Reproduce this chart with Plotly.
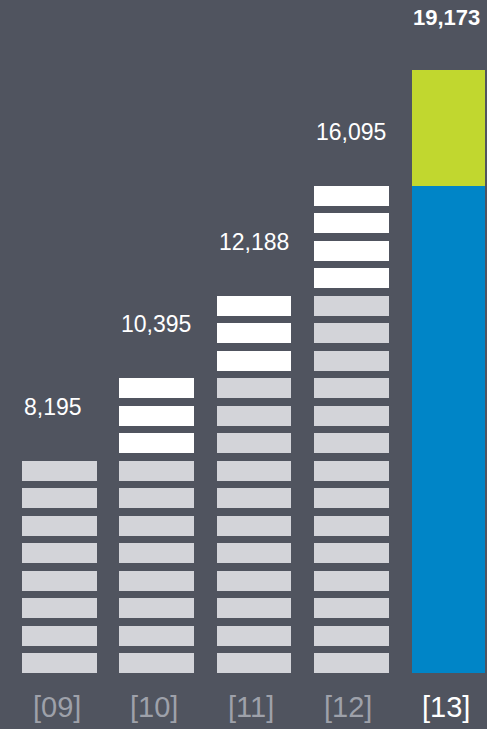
import plotly.graph_objects as go

# ---- data ----
years = ["[09]", "[10]", "[11]", "[12]", "[13]"]
totals = [8195, 10395, 12188, 16095, 19173]
total_labels = ["8,195", "10,395", "12,188", "16,095", "19,173"]
# block counts (each block = one unit on the pictogram scale)
prev_blocks = [8, 8, 11, 14]     # grey blocks: carried over from previous year
new_blocks = [0, 3, 3, 4]        # white blocks: growth in that year
# 2013 solid bar, in block units
base_13 = 17.72                  # blue: 2012 level
growth_13 = 4.2                  # green: 2013 growth

BG = "#50545f"
GREY = "#d3d4d9"
WHITE = "#ffffff"
BLUE = "#0085c7"
GREEN = "#c1d72f"
BLOCK_H = 0.716
BW = 0.771

fig = go.Figure()

# grey and white block traces
gx, gb, wx, wb = [], [], [], []
for i, (p, n) in enumerate(zip(prev_blocks, new_blocks)):
    for k in range(p):
        gx.append(i); gb.append(k)
    for k in range(p, p + n):
        wx.append(i); wb.append(k)

fig.add_trace(go.Bar(x=gx, y=[BLOCK_H] * len(gx), base=gb, width=BW,
                     marker=dict(color=GREY, line=dict(width=0)), hoverinfo="skip"))
fig.add_trace(go.Bar(x=wx, y=[BLOCK_H] * len(wx), base=wb, width=BW,
                     marker=dict(color=WHITE, line=dict(width=0)), hoverinfo="skip"))
fig.add_trace(go.Bar(x=[4], y=[base_13], base=[0], width=0.75,
                     marker=dict(color=BLUE, line=dict(width=0)), hoverinfo="skip"))
fig.add_trace(go.Bar(x=[4], y=[growth_13], base=[base_13], width=0.75,
                     marker=dict(color=GREEN, line=dict(width=0)), hoverinfo="skip"))

# value labels
tops = [p + n - 1 + BLOCK_H for p, n in zip(prev_blocks, new_blocks)] + [base_13 + growth_13]
for i, (t, lab) in enumerate(zip(tops, total_labels)):
    last = i == len(tops) - 1
    fig.add_annotation(x=i - BW / 2, y=t, text=("<b>%s</b>" % lab) if last else lab,
                       xref="x", yref="y", xanchor="left", yanchor="middle",
                       yshift=53 if last else 54, showarrow=False,
                       font=dict(family="Liberation Sans", size=22 if last else 23, color=WHITE))

# year labels
for i, y in enumerate(years):
    last = i == len(years) - 1
    fig.add_annotation(x=i - 0.03, y=0, text=y, xref="x", yref="paper",
                       xanchor="center", yanchor="middle", yshift=-34, showarrow=False,
                       font=dict(family="Liberation Sans", size=29,
                                 color=WHITE if last else "#9ea1aa"))

fig.update_layout(
    width=487, height=729, barmode="overlay", showlegend=False,
    paper_bgcolor=BG, plot_bgcolor=BG,
    margin=dict(l=0, r=0, t=0, b=56),
    bargap=0,
    xaxis=dict(range=[-0.612, 4.396], visible=False, fixedrange=True),
    yaxis=dict(range=[0, 673 / 27.5], visible=False, fixedrange=True),
)

fig.write_html("out.html")
